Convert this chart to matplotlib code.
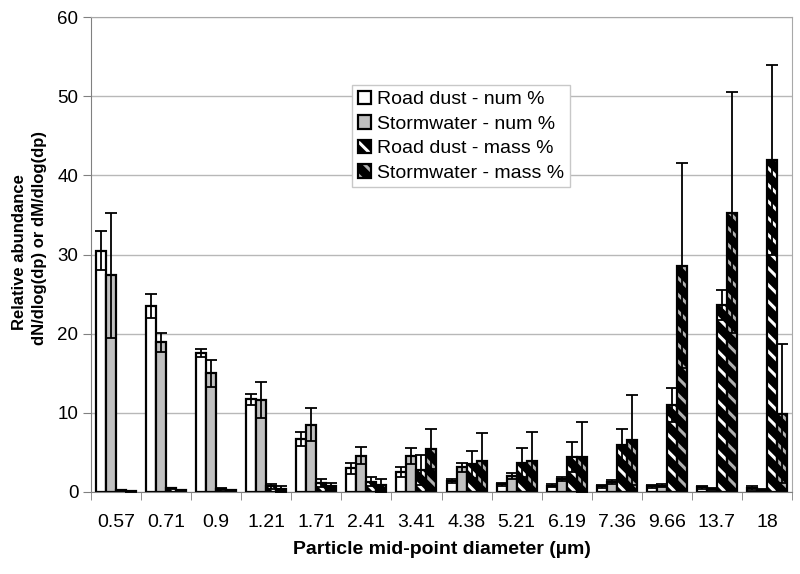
import numpy as np
import matplotlib; matplotlib.use("Agg"); import matplotlib.pyplot as plt
from matplotlib.patches import Patch
from matplotlib.legend_handler import HandlerTuple

plt.rcParams.update({"font.family": ["Liberation Sans", "DejaVu Sans"], "hatch.linewidth": 2.2})

sizes = ["0.57", "0.71", "0.9", "1.21", "1.71", "2.41", "3.41", "4.38", "5.21", "6.19", "7.36", "9.66", "13.7", "18"]
rd_num = [30.5, 23.5, 17.6, 11.7, 6.7, 3.0, 2.5, 1.4, 1.0, 0.8, 0.7, 0.7, 0.6, 0.5]
rd_num_err = [2.5, 1.5, 0.5, 0.7, 0.9, 0.7, 0.6, 0.3, 0.2, 0.15, 0.15, 0.15, 0.2, 0.2]
sw_num = [27.4, 18.9, 15.0, 11.6, 8.5, 4.6, 4.5, 3.1, 2.0, 1.6, 1.3, 0.8, 0.4, 0.3]
sw_num_err = [7.9, 1.2, 1.7, 2.3, 2.1, 1.1, 1.0, 0.6, 0.4, 0.25, 0.25, 0.15, 0.1, 0.1]
rd_mass = [0.25, 0.45, 0.4, 0.7, 1.1, 1.3, 2.8, 3.5, 3.7, 4.45, 5.9, 11.0, 23.6, 41.9]
rd_mass_err = [0.05, 0.05, 0.1, 0.3, 0.5, 0.6, 1.9, 1.7, 1.8, 1.9, 2.05, 2.2, 1.9, 12.0]
sw_mass = [0.1, 0.25, 0.25, 0.35, 0.75, 0.85, 5.4, 3.95, 3.9, 4.45, 6.6, 28.6, 35.3, 9.9]
sw_mass_err = [0.05, 0.05, 0.05, 0.4, 0.45, 0.85, 2.5, 3.55, 3.7, 4.4, 5.7, 12.9, 15.2, 8.75]

labels = ["Road dust - num %", "Stormwater - num %", "Road dust - mass %", "Stormwater - mass %"]
GRAY = "#c0c0c0"

fig = plt.figure(figsize=(8, 5.74), dpi=100)
ax = fig.add_axes([91/800, 1-492/574, 701/800, 475/574])
x = np.arange(len(sizes))
w = 0.2

# number bars: plain fills
ax.bar(x - 1.5*w, rd_num, w, color="white", edgecolor="black", lw=1.6, zorder=2)
ax.bar(x - 0.5*w, sw_num, w, color=GRAY, edgecolor="black", lw=1.6, zorder=2)
# mass bars: black with coloured diagonal stripes, outline drawn on top
for off, vals, stripe in [(0.5*w, rd_mass, "white"), (1.5*w, sw_mass, "#b0b0b0")]:
    ax.bar(x + off, vals, w, color="black", edgecolor=stripe, lw=0, hatch="\\\\", zorder=2)
    ax.bar(x + off, vals, w, fill=False, edgecolor="black", lw=1.6, zorder=2.1)

for off, vals, err in [(-1.5*w, rd_num, rd_num_err), (-0.5*w, sw_num, sw_num_err),
                       (0.5*w, rd_mass, rd_mass_err), (1.5*w, sw_mass, sw_mass_err)]:
    ax.errorbar(x + off, vals, yerr=err, fmt="none", ecolor="black", elinewidth=1.3,
                capsize=4, capthick=1.3, zorder=3)

ax.set_xlim(-0.5, 13.5)
ax.set_ylim(0, 60)
ax.set_yticks(range(0, 61, 10))
ax.tick_params(axis="y", labelsize=13.5, length=6, color="#808080", pad=3)
ax.set_xticks(x)
ax.set_xticklabels(sizes)
ax.set_xticks(np.arange(-0.5, 13.6, 1), minor=True)
ax.tick_params(axis="x", which="major", length=0, labelsize=14, pad=16)
ax.tick_params(axis="x", which="minor", length=6, color="#808080")
ax.grid(axis="y", color="#b8b8b8", lw=1, zorder=0)
ax.set_axisbelow(True)
for s in ["left", "bottom"]:
    ax.spines[s].set_color("#808080")
for s in ["top", "right"]:
    ax.spines[s].set_color("#a8a8a8")

ax.set_xlabel("Particle mid-point diameter (\u00b5m)", fontsize=14, fontweight="bold", labelpad=7)
fig.text(20/800, 1-252/574, "Relative abundance", rotation=90, fontsize=12, fontweight="bold",
         ha="center", va="center")
fig.text(39.5/800, 1-238/574, "dN/dlog(dp) or dM/dlog(dp)", rotation=90, fontsize=12,
         fontweight="bold", ha="center", va="center")

outline = dict(fill=False, edgecolor="black", lw=1.6)
handles = [
    Patch(facecolor="white", edgecolor="black", lw=1.6),
    Patch(facecolor=GRAY, edgecolor="black", lw=1.6),
    (Patch(facecolor="black", edgecolor="white", lw=0, hatch="\\\\"), Patch(**outline)),
    (Patch(facecolor="black", edgecolor="#b0b0b0", lw=0, hatch="\\\\"), Patch(**outline)),
]
leg = ax.legend(handles, labels, loc="upper left", bbox_to_anchor=(0.372, 0.857), fontsize=14,
                handler_map={tuple: HandlerTuple(ndivide=1, pad=0)}, fancybox=False, framealpha=1,
                edgecolor="#c8c8c8", handlelength=0.7, handleheight=0.7, handletextpad=0.3,
                labelspacing=0.35, borderpad=0.3, borderaxespad=0)
leg.get_frame().set_linewidth(1)

fig.savefig("out.png", dpi=100)
